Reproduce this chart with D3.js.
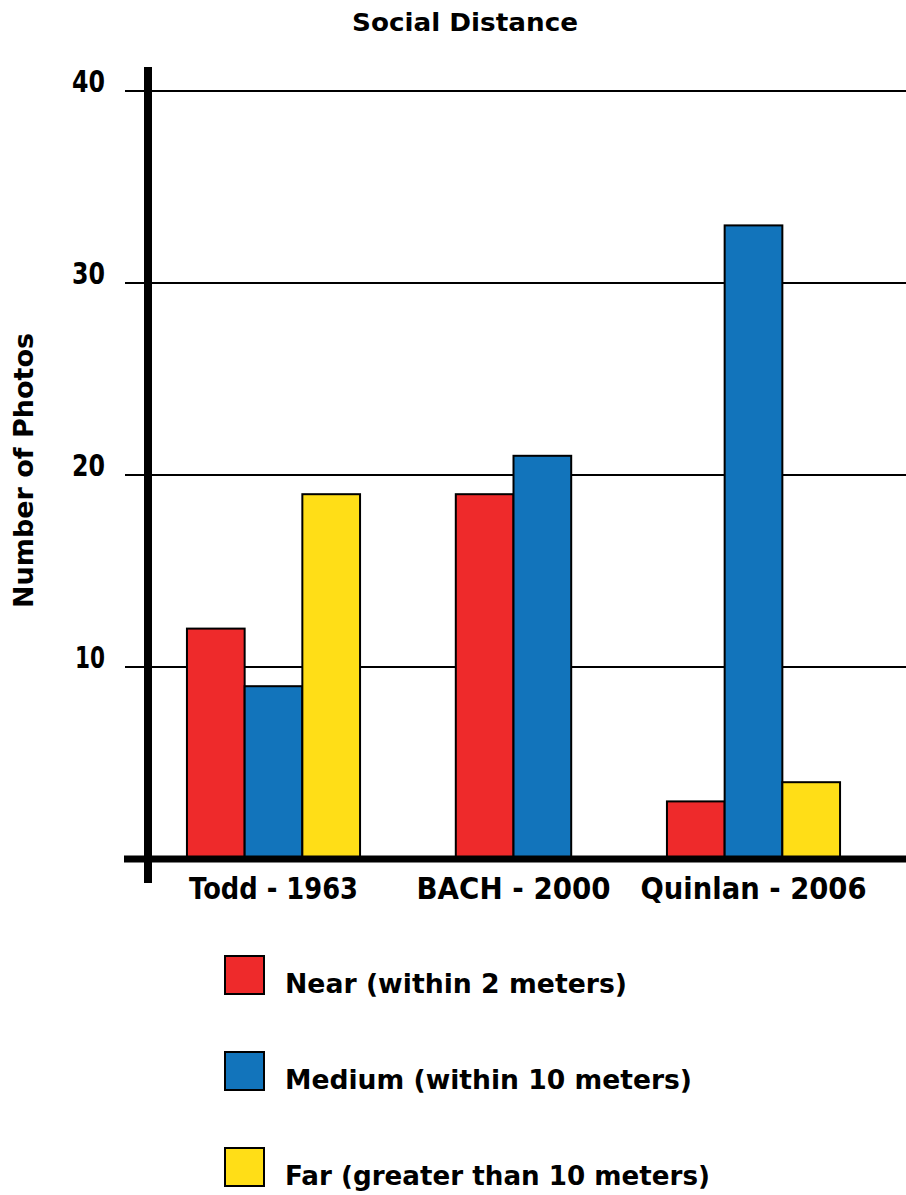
<!DOCTYPE html>
<html>
<head>
<meta charset="utf-8" />
<title>Social Distance</title>
<style>
* { padding: 0; margin: 0; }
body { background: #fff; }
text { font-family: "DejaVu Sans", sans-serif; font-weight: bold; fill: #000; }
</style>
</head>
<body>
<div id="chart"></div>
<script src="https://cdn.jsdelivr.net/npm/d3@7"></script>
<script>
var categories = ["Todd - 1963", "BACH - 2000", "Quinlan - 2006"]
var seriesNames = ["Near (within 2 meters)", "Medium (within 10 meters)", "Far (greater than 10 meters)"]
var seriesColors = ["#ee2a2b", "#1274bb", "#ffde17"]
var nearValues = [12, 19, 3]
var mediumValues = [9, 21, 33]
var farValues = [19, null, 4]
var yTicks = [10, 20, 30, 40]

var width = 906, height = 1195
var svg = d3.select("#chart").append("svg")
    .attr("width", width).attr("height", height)

var allValues = [nearValues, mediumValues, farValues]

var catWidths = [169, 194, 226]
var legendWidths = [342, 407, 425]

var x0 = d3.scaleBand().domain(categories).range([153.5, 873.5])
var y = d3.scaleLinear().domain([0, 40]).range([859, 91])
var barW = 57.7

// title
svg.append("text")
    .attr("x", 465).attr("y", 31)
    .attr("text-anchor", "middle")
    .attr("textLength", 226).attr("lengthAdjust", "spacingAndGlyphs")
    .style("font-size", "25px")
    .text("Social Distance")

// gridlines
svg.append("g").selectAll("line")
    .data(yTicks)
    .enter().append("line")
    .attr("x1", 125).attr("x2", width)
    .attr("y1", function(d) { return y(d) }).attr("y2", function(d) { return y(d) })
    .attr("stroke", "#000").attr("stroke-width", 2)

// tick labels
svg.append("g").selectAll("text")
    .data(yTicks)
    .enter().append("text")
    .attr("x", 105).attr("y", function(d) { return y(d) + 1 })
    .attr("text-anchor", "end")
    .attr("textLength", function(d) { return d == 10 ? 30 : 33 })
    .attr("lengthAdjust", "spacingAndGlyphs")
    .style("font-size", "30px")
    .text(function(d) { return d })

// bars
categories.forEach(function(cat, ci) {
    var present = []
    allValues.forEach(function(vals, si) {
        if (vals[ci] != null) present.push(si)
    })
    var c = x0(cat) + x0.bandwidth() / 2
    var x1 = d3.scaleBand().domain(present)
        .range([c - present.length * barW / 2, c + present.length * barW / 2])
    svg.append("g").selectAll("rect")
        .data(present)
        .enter().append("rect")
        .attr("x", function(si) { return x1(si) })
        .attr("width", x1.bandwidth())
        .attr("y", function(si) { return y(allValues[si][ci]) })
        .attr("height", function(si) { return y(0) - y(allValues[si][ci]) })
        .attr("fill", function(si) { return seriesColors[si] })
        .attr("stroke", "#000").attr("stroke-width", 2)
})

// axes
svg.append("line")
    .attr("x1", 124).attr("x2", width)
    .attr("y1", y(0)).attr("y2", y(0))
    .attr("stroke", "#000").attr("stroke-width", 7)
svg.append("line")
    .attr("x1", 148).attr("x2", 148)
    .attr("y1", 67).attr("y2", 883)
    .attr("stroke", "#000").attr("stroke-width", 8)

// category labels
svg.append("g").selectAll("text")
    .data(categories)
    .enter().append("text")
    .attr("x", function(d) { return x0(d) + x0.bandwidth() / 2 })
    .attr("y", 899)
    .attr("text-anchor", "middle")
    .attr("textLength", function(d, i) { return catWidths[i] })
    .attr("lengthAdjust", "spacingAndGlyphs")
    .style("font-size", "30px")
    .text(function(d) { return d })

// y title
svg.append("text")
    .attr("transform", "translate(33,470.5) rotate(-90)")
    .attr("text-anchor", "middle")
    .attr("textLength", 275).attr("lengthAdjust", "spacingAndGlyphs")
    .style("font-size", "27px")
    .text("Number of Photos")

// legend
var legend = svg.append("g").selectAll("g")
    .data(seriesNames)
    .enter().append("g")
    .attr("transform", function(d, i) { return "translate(225," + (956 + i * 96) + ")" })
legend.append("rect")
    .attr("width", 39).attr("height", 38)
    .attr("fill", function(d, i) { return seriesColors[i] })
    .attr("stroke", "#000").attr("stroke-width", 2)
legend.append("text")
    .attr("x", 60).attr("y", 37)
    .attr("textLength", function(d, i) { return legendWidths[i] })
    .attr("lengthAdjust", "spacingAndGlyphs")
    .style("font-size", "27px")
    .text(function(d) { return d })
</script>
</body>
</html>
